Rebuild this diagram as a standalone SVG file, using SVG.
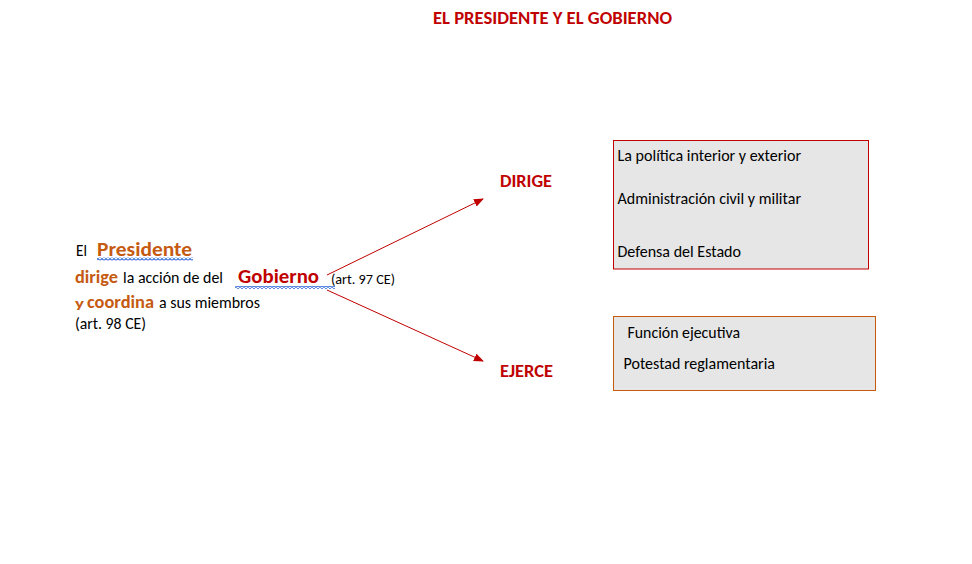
<svg xmlns="http://www.w3.org/2000/svg" width="972" height="564" viewBox="0 0 972 564">
<style>
text{font-family:Carlito,"Liberation Sans",Arial,sans-serif;}
.b{font-weight:bold;}
.red{fill:#C00000;}
.org{fill:#C55A11;}
.blk{fill:#000000;}
.conn{stroke:#C00000;stroke-width:1;fill:none;}
.box1{fill:#E6E6E6;stroke:#C00000;stroke-width:1;}
.box2{fill:#E6E6E6;stroke:#C55A11;stroke-width:1;}
</style>
<defs>
<marker id="ah" markerWidth="10" markerHeight="8" refX="9" refY="4" orient="auto" markerUnits="userSpaceOnUse">
<path d="M0,0 L10,4 L0,8 Z" fill="#C00000"/>
</marker>
<pattern id="wave" width="4" height="3" patternUnits="userSpaceOnUse">
<polyline points="0,2.5 2,0.5 4,2.5" fill="none" stroke="#3A6FD8" stroke-width="1.2"/>
</pattern>
</defs>
<rect width="972" height="564" fill="#FFFFFF"/>
<g id="title">
<text class="b red" x="433" y="24" font-size="18" textLength="239" lengthAdjust="spacingAndGlyphs">EL PRESIDENTE Y EL GOBIERNO</text>
</g>
<g id="connectors">
<line class="conn" x1="327" y1="275" x2="483" y2="199" marker-end="url(#ah)"/>
<line class="conn" x1="327" y1="290" x2="483" y2="361" marker-end="url(#ah)"/>
</g>
<g id="node-source">
<text class="blk" x="76" y="256" font-size="15.5" textLength="11" lengthAdjust="spacingAndGlyphs">El</text>
<text class="b org" x="97" y="256" font-size="20" textLength="95" lengthAdjust="spacingAndGlyphs">Presidente</text>
<rect x="97" y="257.5" width="96" height="3" fill="url(#wave)"/>
<text class="b org" x="75" y="283" font-size="17" textLength="43" lengthAdjust="spacingAndGlyphs">dirige</text>
<text class="blk" x="123" y="283" font-size="15.5" textLength="100" lengthAdjust="spacingAndGlyphs">la acción de del</text>
<text class="b red" x="238" y="283" font-size="20" textLength="81" lengthAdjust="spacingAndGlyphs">Gobierno</text>
<rect x="235" y="286" width="100" height="3" fill="url(#wave)"/>
<text class="blk" x="331" y="284" font-size="13.5" textLength="64" lengthAdjust="spacingAndGlyphs">(art. 97 CE)</text>
<text class="b org" x="75" y="308" font-size="14" textLength="9" lengthAdjust="spacingAndGlyphs">y</text>
<text class="b org" x="87" y="308" font-size="17" textLength="67" lengthAdjust="spacingAndGlyphs">coordina</text>
<text class="blk" x="159" y="308" font-size="15.5" textLength="101" lengthAdjust="spacingAndGlyphs">a sus miembros</text>
<text class="blk" x="75" y="329" font-size="15.5" textLength="71" lengthAdjust="spacingAndGlyphs">(art. 98 CE)</text>
</g>
<g id="node-dirige">
<text class="b red" x="500" y="187" font-size="17" textLength="52" lengthAdjust="spacingAndGlyphs">DIRIGE</text>
</g>
<g id="node-ejerce">
<text class="b red" x="500" y="377" font-size="17" textLength="53" lengthAdjust="spacingAndGlyphs">EJERCE</text>
</g>
<g id="box-dirige">
<rect class="box1" x="613.5" y="140.5" width="255" height="128.5"/>
<text class="blk" x="617.5" y="160.5" font-size="15.5" textLength="183.5" lengthAdjust="spacingAndGlyphs">La política interior y exterior</text>
<text class="blk" x="617.5" y="204" font-size="15.5" textLength="183.5" lengthAdjust="spacingAndGlyphs">Administración civil y militar</text>
<text class="blk" x="617.5" y="256.5" font-size="15.5" textLength="123.5" lengthAdjust="spacingAndGlyphs">Defensa del Estado</text>
</g>
<g id="box-ejerce">
<rect class="box2" x="613.5" y="316.5" width="262" height="74"/>
<text class="blk" x="627.5" y="337.5" font-size="15.5" textLength="112.5" lengthAdjust="spacingAndGlyphs">Función ejecutiva</text>
<text class="blk" x="623.5" y="368.5" font-size="15.5" textLength="151.5" lengthAdjust="spacingAndGlyphs">Potestad reglamentaria</text>
</g>
</svg>
